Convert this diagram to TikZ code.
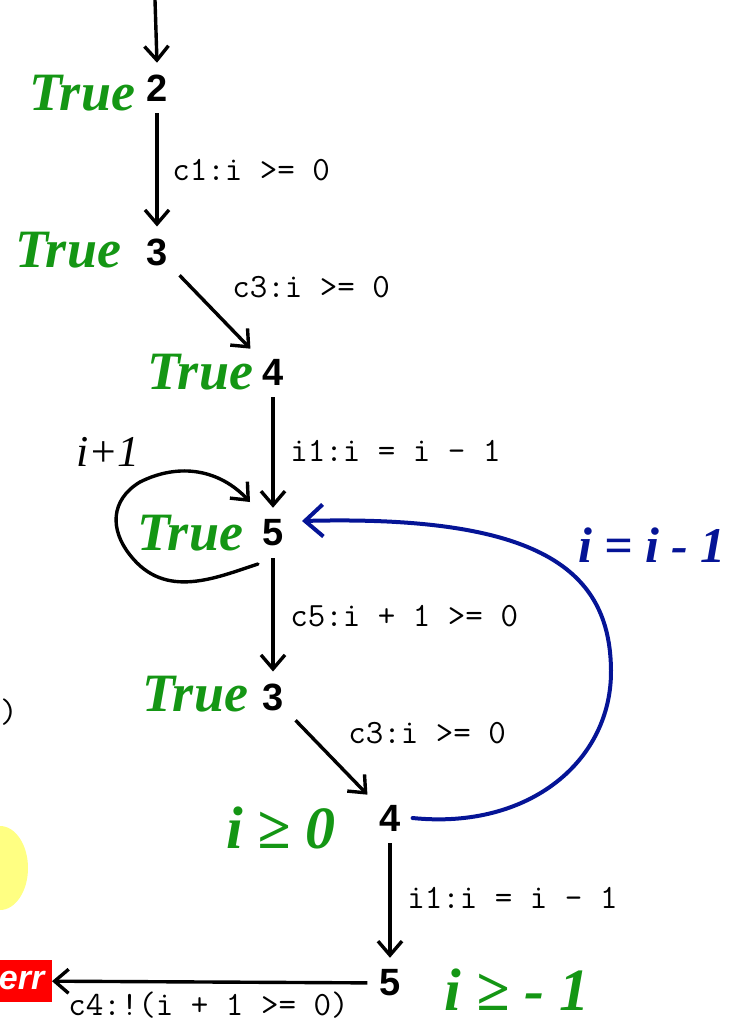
\documentclass[tikz,border=0pt]{standalone}
\usepackage{fontspec}
\setsansfont{Liberation Sans}
\newfontfamily\handfont{Liberation Serif}
\usetikzlibrary{arrows.meta,shapes.geometric}
\definecolor{hgreen}{RGB}{20,150,20}
\definecolor{hblue}{RGB}{5,20,150}
\definecolor{hyellow}{RGB}{255,255,130}
\tikzset{
  st/.style={font=\fontsize{19}{21}\sffamily\bfseries, inner sep=2pt, outer sep=4pt},
  lbl/.style={font=\fontsize{17}{20}\ttfamily, anchor=west, inner sep=0pt},
  hand/.style={font=\fontsize{27}{29}\handfont\bfseries\itshape, text=hgreen, inner sep=0pt},
  edge/.style={line width=1.7pt, -{Straight Barb[length=7pt,width=12pt,line width=1.7pt]}},
}
\begin{document}
\begin{tikzpicture}[x=0.5pt,y=-0.5pt]
\useasboundingbox (0,0) rectangle (731,1025);
% yellow blob and cut-off items at left
\fill[hyellow] (0,868) ellipse [x radius=28, y radius=42];
\node[lbl, anchor=east] (cut) at (18,712) {0)};
\node[fill=red, text=white, font=\fontsize{17}{18}\sffamily\bfseries\itshape, minimum height=21pt, minimum width=30pt, inner sep=0pt, anchor=east] (err) at (52,981) {err};
% states
\coordinate (top) at (155,0);
\node[st] (s2) at (157,88) {2};
\node[st] (s3) at (157,252) {3};
\node[st] (s4) at (273,372) {4};
\node[st] (s5) at (273,533) {5};
\node[st] (t3) at (273,697) {3};
\node[st] (t4) at (390,818) {4};
\node[st] (t5) at (390,983) {5};
% edges
\draw[edge] (top) -- (s2.north);
\draw[edge] (s2) -- (s3);
\draw[edge] (s3) -- (s4);
\draw[edge] (s4) -- (s5);
\draw[edge] (s5) -- (t3);
\draw[edge] (t3) -- (t4);
\draw[edge] (t4) -- (t5);
\draw[edge] (t5) -- (err);
% edge labels
\node[lbl] (l1) at (172,170) {c1:i >= 0};
\node[lbl] (l2) at (232,287) {c3:i >= 0};
\node[lbl] (l3) at (290,451) {i1:i = i - 1};
\node[lbl] (l4) at (290,616) {c5:i + 1 >= 0};
\node[lbl] (l5) at (348,733) {c3:i >= 0};
\node[lbl] (l6) at (407,898) {i1:i = i - 1};
\node[lbl] (l7) at (68,1005) {c4:!(i + 1 >= 0)};
% handwritten annotations
\node[hand] (h2) at (82,93) {True};
\node[hand] (h3) at (68,250) {True};
\node[hand] (h4) at (200,372) {True};
\node[hand] (h5) at (190,533) {True};
\node[hand] (h6) at (195,694) {True};
\node[hand, font=\fontsize{30}{32}\handfont\bfseries\itshape] (h7) at (281,828) {i ≥ 0};
\node[hand, font=\fontsize{30}{32}\handfont\bfseries\itshape] (h8) at (517,990) {i ≥ - 1};
\node[hand, text=hblue, font=\fontsize{25}{27}\handfont\bfseries\itshape] (h9) at (652,545) {i = i - 1};
\node[hand, text=black, font=\fontsize{22}{24}\handfont\itshape] (h10) at (108,452) {i+1};
% blue back edge 4 -> 5
\coordinate (bend) at (302,521);
\draw[hblue, line width=2pt, line cap=round, -{Straight Barb[length=9pt,width=16pt,line width=2pt]}]
  (t4.east) .. controls (530,830) and (612,760) .. (611,670)
  .. controls (610,570) and (540,515) .. (bend);
% black self loop around True at 5
\coordinate (lp) at (258,564);
\coordinate (lq) at (250,502);
\draw[black, line width=1.7pt, line cap=round, -{Straight Barb[length=7pt,width=12pt,line width=1.7pt]}]
  (lp) .. controls (215,578) and (165,600) .. (130,555)
  .. controls (110,530) and (110,500) .. (140,482)
  .. controls (180,462) and (220,470) .. (lq);
\end{tikzpicture}
\end{document}
